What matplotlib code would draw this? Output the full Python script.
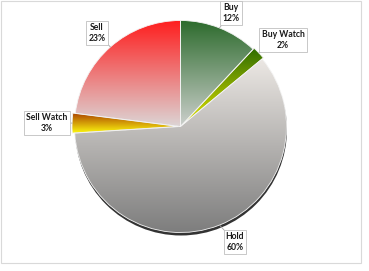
import numpy as np
import matplotlib
matplotlib.use("Agg")
import matplotlib.pyplot as plt
from matplotlib.patches import Wedge, Circle, Rectangle
from matplotlib.colors import LinearSegmentedColormap

categories = ["Buy", "Buy Watch", "Hold", "Sell Watch", "Sell"]
values = [12, 2, 60, 3, 23]
labels = ["Buy\n12%", "Buy Watch\n2%", "Hold\n60%", "Sell Watch\n3%", "Sell\n23%"]
grad_top = ["#2b6a2b", "#2a6a00", "#ece8e4", "#a83c00", "#ff1c1c"]
grad_bot = ["#cdd0cd", "#e6e600", "#7c7c7c", "#ffff10", "#dcd6d6"]
explode = [0, 1.5, 0, 2.5, 0]
label_pos = [(231, 13), (283, 40), (235, 242), (47, 123), (97, 33)]

W, H = 369, 271
fig = plt.figure(figsize=(W / 100, H / 100), dpi=100)
ax = fig.add_axes([0, 0, 1, 1])
ax.set_xlim(0, W)
ax.set_ylim(H, 0)
ax.axis("off")

# chart border
ax.add_patch(Rectangle((1, 0.5), 360, 262.5, fill=False, ec="#d9d9d9", lw=0.8))

cx, cy, r = 180.5, 126.5, 106.0
# shadow
ax.add_patch(Circle((cx + 0.5, cy + 3), r, fc="#333333", ec="none", zorder=1))

fr = np.array(values, dtype=float) / sum(values)
start = -90.0
for i, f in enumerate(fr):
    t1 = start + 360 * f
    mid = np.deg2rad((start + t1) / 2)
    ox = cx + explode[i] * np.cos(mid)
    oy = cy + explode[i] * np.sin(mid)
    w = Wedge((ox, oy), r, start, t1, fc="none", ec="#f4f4f4", lw=0.6, zorder=3)
    ax.add_patch(w)
    verts = w.get_path().vertices
    verts = w.get_patch_transform().transform(verts)
    ymin, ymax = verts[:, 1].min(), verts[:, 1].max()
    xmin, xmax = verts[:, 0].min(), verts[:, 0].max()
    cmap = LinearSegmentedColormap.from_list("g%d" % i, [grad_top[i], grad_bot[i]])
    grad = np.linspace(0, 1, 256).reshape(-1, 1)
    im = ax.imshow(grad, cmap=cmap, aspect="auto", origin="upper",
                   extent=(xmin - 1, xmax + 1, ymax + 1, ymin - 1), zorder=2,
                   interpolation="bilinear")
    im.set_clip_path(w)
    # label
    lx, ly = label_pos[i]
    ex = ox + r * np.cos(mid)
    ey = oy + r * np.sin(mid)
    ax.plot([ex, lx + (ex - lx) * 0.55], [ey, ly + (ey - ly) * 0.55], color="#a6a6a6", lw=0.6, zorder=4)
    ax.text(lx, ly, labels[i], ha="center", va="center", fontsize=6.2, fontweight="bold",
            family=["Lato", "DejaVu Sans"], color="#1a1a1a", linespacing=1.25, zorder=5,
            bbox=dict(boxstyle="square,pad=0.25", fc="white", ec="#bfbfbf", lw=0.6))
    start = t1

ax.set_xlim(0, W)
ax.set_ylim(H, 0)
fig.savefig("out.png", dpi=100)
